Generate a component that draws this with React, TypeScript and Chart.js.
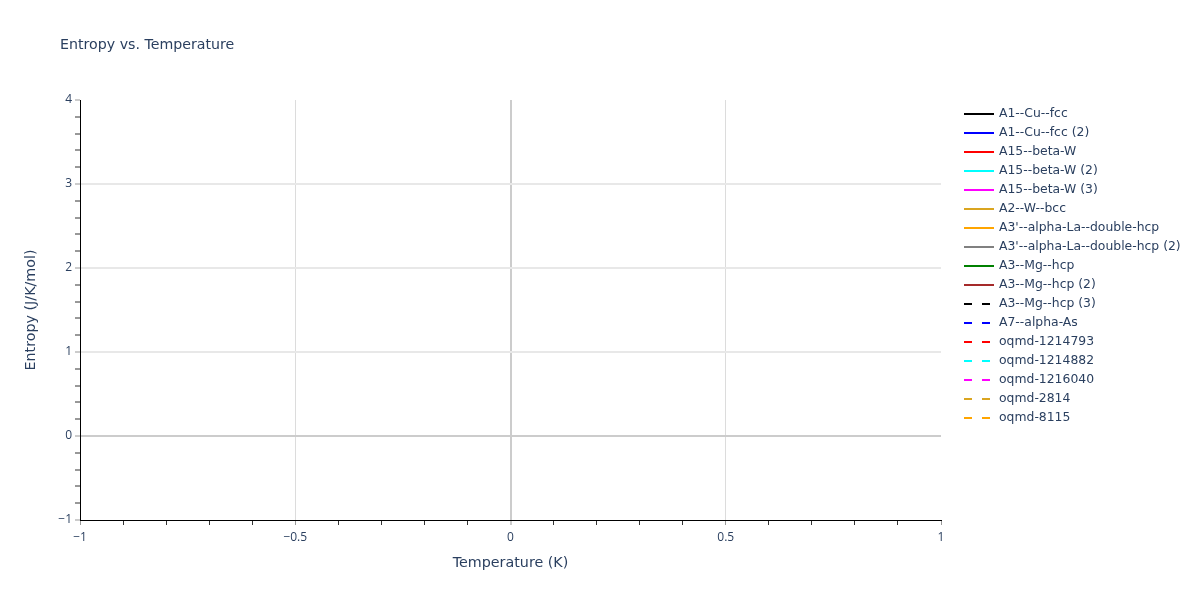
import React, { useEffect, useRef } from "react";
import { Chart, registerables, Plugin } from "chart.js";

Chart.register(...registerables);

// series shown in the legend (the plot holds no points)
const seriesNames = [
  "A1--Cu--fcc",
  "A1--Cu--fcc (2)",
  "A15--beta-W",
  "A15--beta-W (2)",
  "A15--beta-W (3)",
  "A2--W--bcc",
  "A3'--alpha-La--double-hcp",
  "A3'--alpha-La--double-hcp (2)",
  "A3--Mg--hcp",
  "A3--Mg--hcp (2)",
  "A3--Mg--hcp (3)",
  "A7--alpha-As",
  "oqmd-1214793",
  "oqmd-1214882",
  "oqmd-1216040",
  "oqmd-2814",
  "oqmd-8115",
];
const seriesColors = [
  "black", "blue", "red", "cyan", "magenta", "goldenrod", "orange", "gray", "green", "brown",
  "black", "blue", "red", "cyan", "magenta", "goldenrod", "orange",
];
const seriesDashed = [
  false, false, false, false, false, false, false, false, false, false,
  true, true, true, true, true, true, true,
];
const seriesTemperature: number[][] = seriesNames.map(() => []);
const seriesEntropy: number[][] = seriesNames.map(() => []);

const xMajorTicks = [-1, -0.5, 0, 0.5, 1];
const yMajorTicks = [-1, 0, 1, 2, 3, 4];

const TEXT = "#2a3f5f";
const FONT = '"DejaVu Sans", Verdana, sans-serif';
const TICK_FONT = '"Open Sans", "Noto Sans", sans-serif';

const isMajor = (v: number, majors: number[]) => majors.some((m) => Math.abs(m - v) < 1e-6);
const fmt = (v: number) => {
  const r = Math.round(v * 10) / 10;
  return r < 0 ? "\u2212" + String(-r) : String(r);
};

const decorPlugin: Plugin = {
  id: "decor",
  afterDraw(chart) {
    const ctx = chart.ctx;
    ctx.save();
    ctx.fillStyle = TEXT;
    ctx.font = `14.2px ${FONT}`;
    ctx.textBaseline = "middle";
    ctx.textAlign = "left";
    ctx.fillText("Entropy vs. Temperature", 60, 45);

    ctx.font = `12.4px ${FONT}`;
    chart.data.datasets.forEach((ds: any, i: number) => {
      const y = 114 + 19 * i;
      ctx.beginPath();
      ctx.strokeStyle = ds.borderColor;
      ctx.lineWidth = 2;
      ctx.setLineDash(ds.borderDash || []);
      ctx.moveTo(964, y);
      ctx.lineTo(994, y);
      ctx.stroke();
      ctx.setLineDash([]);
      ctx.fillStyle = TEXT;
      ctx.fillText(ds.label, 999, y);
    });
    ctx.restore();
  },
};

const EntropyChart: React.FC = () => {
  const canvasRef = useRef<HTMLCanvasElement | null>(null);
  const chartRef = useRef<Chart | null>(null);

  useEffect(() => {
    if (!canvasRef.current) return;
    chartRef.current?.destroy();

    chartRef.current = new Chart(canvasRef.current, {
      type: "line",
      data: {
        datasets: seriesNames.map((name, i) => ({
          label: name,
          data: seriesTemperature[i].map((t, j) => ({ x: t, y: seriesEntropy[i][j] })),
          borderColor: seriesColors[i],
          borderWidth: 2,
          borderDash: seriesDashed[i] ? [8, 10] : [],
          pointRadius: 0,
          fill: false,
        })),
      },
      options: {
        animation: false,
        responsive: true,
        maintainAspectRatio: false,
        layout: { padding: { left: 0, top: 100, right: 259, bottom: 0 } },
        plugins: {
          legend: { display: false },
          title: { display: false },
          tooltip: { enabled: false },
        },
        scales: {
          x: {
            type: "linear",
            min: -1,
            max: 1,
            afterFit: (s: any) => {
              s.height = 80;
            },
            border: { color: "#000", width: 1 },
            grid: {
              tickLength: 5,
              tickWidth: 1,
              tickColor: (c: any) => (isMajor(c.tick.value, xMajorTicks) ? "#999" : "#333"),
              color: (c: any) => {
                const v = c.tick?.value ?? 0;
                if (Math.abs(v) < 1e-6) return "#cccccc";
                if (Math.abs(Math.abs(v) - 1) < 1e-6) return "rgba(0,0,0,0)";
                return isMajor(v, xMajorTicks) ? "#dcdcdc" : "rgba(0,0,0,0)";
              },
              lineWidth: (c: any) => (Math.abs(c.tick?.value ?? 1) < 1e-6 ? 2 : 1),
            },
            ticks: {
              stepSize: 0.1,
              autoSkip: false,
              maxRotation: 0,
              padding: 5,
              color: TEXT,
              font: { family: TICK_FONT, size: 12 },
              callback: (v: any) => (isMajor(Number(v), xMajorTicks) ? fmt(Number(v)) : ""),
            },
            title: {
              display: true,
              text: "Temperature (K)",
              color: TEXT,
              font: { family: FONT, size: 14.3 },
              padding: { top: 0, bottom: 28 },
            },
          },
          y: {
            type: "linear",
            min: -1,
            max: 4,
            afterFit: (s: any) => {
              s.width = 80;
            },
            border: { color: "#000", width: 1 },
            grid: {
              tickLength: 5,
              tickWidth: 1,
              tickColor: (c: any) => (isMajor(c.tick.value, yMajorTicks) ? "#999" : "#333"),
              color: (c: any) => {
                const v = c.tick?.value ?? 0;
                if (Math.abs(v) < 1e-6) return "#cccccc";
                if (Math.abs(v + 1) < 1e-6 || Math.abs(v - 4) < 1e-6) return "rgba(0,0,0,0)";
                return isMajor(v, yMajorTicks) ? "#e8e8e8" : "rgba(0,0,0,0)";
              },
              lineWidth: 2,
            },
            ticks: {
              stepSize: 0.2,
              autoSkip: false,
              padding: 3,
              color: TEXT,
              font: { family: TICK_FONT, size: 12 },
              callback: (v: any) => (isMajor(Number(v), yMajorTicks) ? fmt(Number(v)) : ""),
            },
            title: {
              display: true,
              text: "Entropy (J/K/mol)",
              color: TEXT,
              font: { family: FONT, size: 14.3 },
              padding: { top: 23, bottom: 0 },
            },
          },
        },
      },
      plugins: [decorPlugin],
    });

    const current = chartRef.current;
    return () => {
      current?.destroy();
    };
  }, []);

  return (
    <div style={{ position: "fixed", left: 0, top: 0, width: 1200, height: 600, background: "#fff" }}>
      <canvas ref={canvasRef} />
    </div>
  );
};

export default function App() {
  return <EntropyChart />;
}
